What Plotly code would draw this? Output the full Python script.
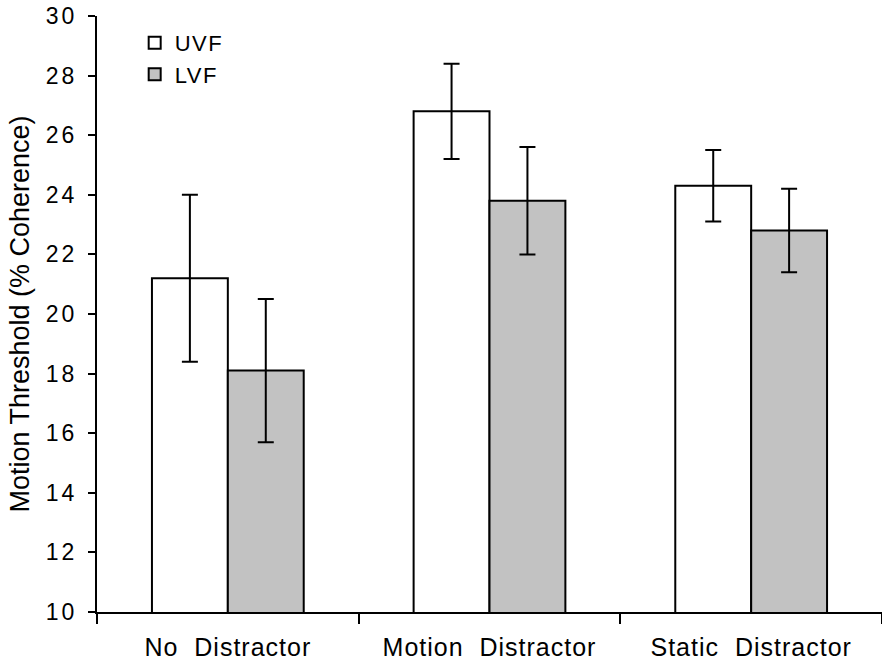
import plotly.graph_objects as go

categories = ["No  Distractor", "Motion  Distractor", "Static  Distractor"]
uvf = [21.2, 26.8, 24.3]
uvf_err = [2.8, 1.6, 1.2]
lvf = [18.1, 23.8, 22.8]
lvf_err = [2.4, 1.8, 1.4]
y_ticks = [10, 12, 14, 16, 18, 20, 22, 24, 26, 28, 30]

FONT = "Liberation Sans, Arial, sans-serif"

def spaced(t, px):
    return f'<span style="letter-spacing:{px}px">{t}</span>'

fig = go.Figure()
fig.add_trace(go.Bar(
    name=spaced("UVF", 1.5), x=categories, y=uvf,
    marker=dict(color="white", line=dict(color="black", width=2)),
    error_y=dict(type="data", array=uvf_err, color="black", thickness=2, width=8),
))
fig.add_trace(go.Bar(
    name=spaced("LVF", 1.5), x=categories, y=lvf,
    marker=dict(color="#c2c2c2", line=dict(color="black", width=2)),
    error_y=dict(type="data", array=lvf_err, color="black", thickness=2, width=8),
))

fig.update_layout(
    width=882, height=670,
    margin=dict(l=97, r=0, t=16, b=58, autoexpand=False),
    paper_bgcolor="white", plot_bgcolor="white",
    barmode="group", bargap=0.42, bargroupgap=0,
    font=dict(family=FONT, color="black", size=23),
    showlegend=True,
    legend=dict(x=0.048, y=0.99, xanchor="left", yanchor="top",
                bgcolor="rgba(0,0,0,0)", font=dict(size=22),
                itemsizing="constant", tracegroupgap=0),
)
fig.update_xaxes(
    showline=True, linecolor="black", linewidth=2,
    ticks="outside", tickson="boundaries", ticklen=10, tickwidth=2, tickcolor="black",
    tickfont=dict(size=25), ticklabelstandoff=12,
    tickvals=categories, ticktext=[spaced(c, 1) for c in categories],
    showgrid=False, zeroline=False, range=[-0.5, 2.5],
)
fig.update_yaxes(
    range=[10, 30], tickvals=y_ticks, ticktext=[spaced(str(v), 3) for v in y_ticks],
    showline=True, linecolor="black", linewidth=2,
    ticks="outside", ticklen=7, tickwidth=2, tickcolor="black",
    tickfont=dict(size=23), ticklabelstandoff=6,
    showgrid=False, zeroline=False,
    title=dict(text="Motion Threshold (% Coherence)", font=dict(size=27), standoff=8),
)

fig.write_html("out.html", config={"displayModeBar": False},
               post_script="document.body.style.margin='0px';")
